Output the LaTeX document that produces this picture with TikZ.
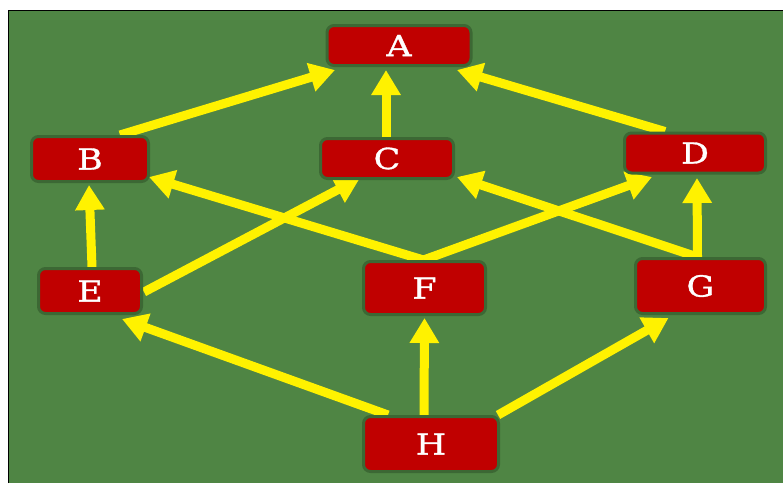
\documentclass[tikz,border=0pt]{standalone}
\usepackage{fontspec}
\newfontfamily\lblfont[FakeStretch=1.2,FakeBold=1.2]{DejaVu Serif}
\usetikzlibrary{arrows.meta,calc,backgrounds}
\definecolor{bggreen}{RGB}{79,133,68}
\definecolor{boxred}{RGB}{192,0,0}
\definecolor{glow}{RGB}{60,104,52}
\begin{document}
\begin{tikzpicture}[x=1pt,y=-1pt,
  box/.style={rectangle, rounded corners=7pt, fill=boxred, draw=glow, line width=3pt,
    inner sep=0pt, text=white, font=\lblfont\fontsize{29}{29}\selectfont},
  arr/.style={draw=yellow, line width=9pt, -{Triangle[width=28pt,length=25pt]}}]
\useasboundingbox (0,0) rectangle (783,483);
% nodes
\node[box, minimum width=144pt, minimum height=40pt] (A) at (399,45.5) {A};
\node[box, minimum width=117pt, minimum height=45pt] (B) at (90,159) {B};
\node[box, minimum width=133pt, minimum height=40pt] (C) at (387,158.5) {C};
\node[box, minimum width=141pt, minimum height=40pt] (D) at (695,153) {D};
\node[box, minimum width=103pt, minimum height=45pt] (E) at (90,291) {E};
\node[box, minimum width=122pt, minimum height=53pt] (F) at (424.5,288) {F};
\node[box, minimum width=130pt, minimum height=55pt] (G) at (700.5,286) {G};
\node[box, minimum width=135pt, minimum height=55pt] (H) at (431,444) {H};
\coordinate (ca) at ($(A.south)+(-13,3)$);
\begin{scope}[on background layer]
  \fill[white] (0,0) rectangle (783,483);
  \fill[bggreen] (8,10) rectangle (783,483);
  \draw[black, line width=1pt] (8,483) -- (8,10) -- (783,10);
\end{scope}
\begin{scope}[on background layer]
  \draw[arr] ($(B.north)+(30,0)$) -- ($(A.south)+(-64,3)$);
  \draw[arr] (ca |- C.north) -- (ca);
  \draw[arr] ($(D.north)+(-30,0)$) -- ($(A.south)+(58,3)$);
  \draw[arr] ($(E.north)+(2,0)$) -- ($(B.south)+(-1,2)$);
  \draw[arr] ($(E.east)+(1,1)$) -- ($(C.south)+(-27,-2)$);
  \draw[arr] ($(F.north)+(-1,0)$) -- ($(B.south east)+(-1,-6)$);
  \draw[arr] ($(F.north)+(-1,0)$) -- ($(D.south)+(-43,2.5)$);
  \draw[arr] ($(G.north)+(-3,0)$) -- ($(C.south east)+(2,-3)$);
  \draw[arr] ($(G.north)+(-3,0)$) -- ($(D.south)+(2,3.5)$);
  \draw[arr] ($(H.north)+(-43,0)$) -- ($(E.south)+(32,4)$);
  \draw[arr] ($(H.north)+(-7,0)$) -- ($(F.south)+(0,2)$);
  \draw[arr] ($(H.north east)+(-2,0)$) -- ($(G.south)+(-32,3)$);
\end{scope}
\end{tikzpicture}
\end{document}
